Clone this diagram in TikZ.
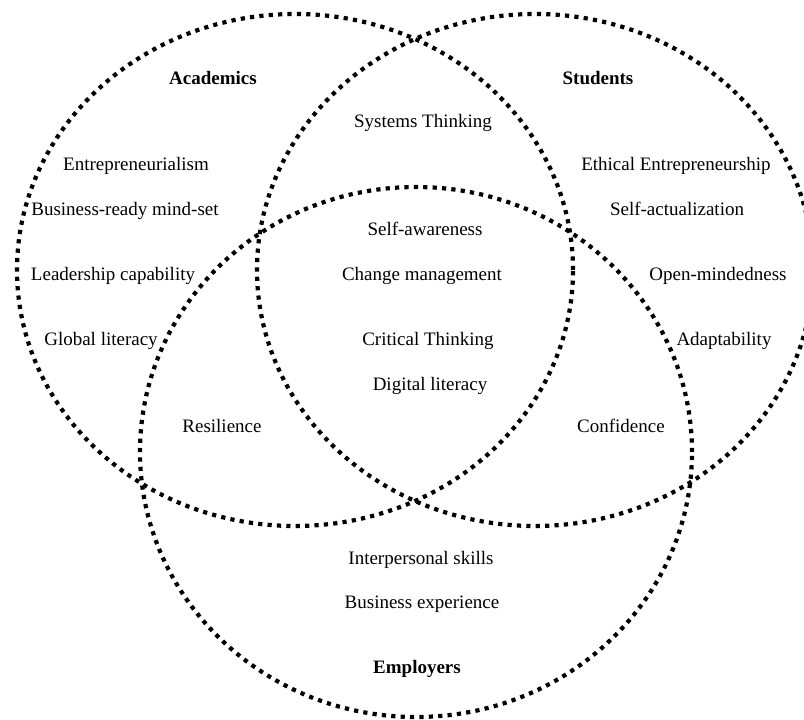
\documentclass[tikz,border=0pt]{standalone}
\usepackage{fontspec}
\setmainfont{Liberation Serif}
\usepackage{tikz}
\tikzstyle{ring} = [line width=4.2pt,dash pattern=on 4.2pt off 5.2pt]
\tikzstyle{skill} = [inner sep=0pt,anchor=base,font=\fontsize{19}{23}\selectfont]
\tikzstyle{group} = [skill,font=\fontsize{19}{23}\selectfont\bfseries]

\begin{document}
\begin{tikzpicture}[x=1pt,y=-1pt]

    \useasboundingbox (0,0) rectangle (804,720);

% Draw the three circles

    \def\rx{278pt}
    \def\ry{256pt}
    \draw[ring] (295,270) ellipse [x radius=\rx, y radius=\ry];
    \draw[ring] (535,270) ellipse [x radius=\rx, y radius=\ry];
    \draw[ring] (416,452) ellipse [x radius=276pt, y radius=265pt];

% Group names

    \node[group] at (213,84) (academics) {Academics};
    \node[group] at (598,84) (students) {Students};
    \node[group] at (417,673) (employers) {Employers};

% Academics only

    \node[skill] at (136,170) (entre) {Entrepreneurialism};
    \node[skill] at (125,215) (bizready) {Business-ready mind-set};
    \node[skill] at (113,280) (leader) {Leadership capability};
    \node[skill] at (101,345) (global) {Global literacy};

% Students only

    \node[skill] at (676,170) (ethical) {Ethical Entrepreneurship};
    \node[skill] at (677,215) (selfact) {Self-actualization};
    \node[skill] at (718,280) (openmind) {Open-mindedness};
    \node[skill] at (724,345) (adapt) {Adaptability};

% Overlaps of two

    \node[skill] at (423,127) (systems) {Systems Thinking};
    \node[skill] at (222,432) (resil) {Resilience};
    \node[skill] at (621,432) (confid) {Confidence};

% Overlap of all three

    \node[skill] at (425,235) (selfaware) {Self-awareness};
    \node[skill] at (422,280) (change) {Change management};
    \node[skill] at (428,345) (critical) {Critical Thinking};
    \node[skill] at (430,390) (digital) {Digital literacy};

% Employers only

    \node[skill] at (421,564) (interp) {Interpersonal skills};
    \node[skill] at (422,608) (bizexp) {Business experience};

\end{tikzpicture}
\end{document}
